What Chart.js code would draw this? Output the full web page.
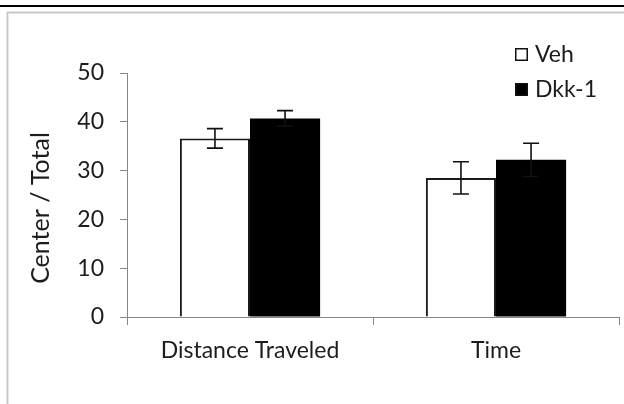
<!DOCTYPE html>
<html>
<head>
<meta charset="utf-8">
<script src="https://cdn.jsdelivr.net/npm/chart.js@4.4.1/dist/chart.umd.min.js"></script>
<style>
  html, body { margin: 0; padding: 0; background: #fff; }
  #wrap { position: absolute; left: 0; top: 0; width: 624px; height: 404px; }
</style>
</head>
<body>
<div id="wrap"><canvas id="c" width="624" height="404"></canvas></div>
<script>
const categories = ["Distance Traveled", "Time"];
const seriesNames = ["Veh", "Dkk-1"];
const vehValues = [36.6, 28.5];
const vehErrors = [2.0, 3.3];
const dkkValues = [40.7, 32.2];
const dkkErrors = [1.6, 3.4];
const yTicks = [0, 10, 20, 30, 40, 50];
const yTitle = 'Center / Total';

const FONT = "Lato, 'Open Sans', sans-serif";
const TEXT = '#1c1c1c';
const AXIS = '#868686';
const FS = 23;

const framePlugin = {
  id: 'frame',
  beforeDraw(chart) {
    const ctx = chart.ctx;
    ctx.save();
    ctx.fillStyle = '#fff';
    ctx.fillRect(0, 0, chart.width, chart.height);
    ctx.fillStyle = '#000';
    ctx.fillRect(0, 5, chart.width, 2);
    ctx.strokeStyle = '#e6e6e6';
    ctx.lineWidth = 3;
    ctx.beginPath();
    ctx.moveTo(7.5, chart.height + 5);
    ctx.lineTo(7.5, 12.5);
    ctx.lineTo(chart.width + 5, 12.5);
    ctx.stroke();
    ctx.strokeStyle = '#c4c4c4';
    ctx.lineWidth = 1;
    ctx.beginPath();
    ctx.moveTo(7.5, chart.height + 5);
    ctx.lineTo(7.5, 12.5);
    ctx.lineTo(chart.width + 5, 12.5);
    ctx.stroke();
    ctx.restore();
  }
};

const titlePlugin = {
  id: 'yTitle',
  afterDraw(chart) {
    const ctx = chart.ctx;
    ctx.save();
    ctx.translate(41, 208);
    ctx.rotate(-Math.PI / 2);
    ctx.font = '25px ' + FONT;
    ctx.fillStyle = TEXT;
    ctx.textAlign = 'center';
    ctx.textBaseline = 'middle';
    ctx.fillText(yTitle, 0, 0);
    ctx.restore();
  }
};

const errorPlugin = {
  id: 'errbars',
  afterDatasetsDraw(chart) {
    const ctx = chart.ctx;
    const y = chart.scales.y;
    const errs = [vehErrors, dkkErrors];
    ctx.save();
    ctx.strokeStyle = '#111';
    ctx.lineWidth = 1.6;
    chart.data.datasets.forEach((ds, di) => {
      const meta = chart.getDatasetMeta(di);
      meta.data.forEach((bar, i) => {
        const v = ds.data[i], e = errs[di][i];
        const x = bar.x;
        const yt = y.getPixelForValue(v + e);
        const yb = y.getPixelForValue(v - e);
        const w = 8;
        ctx.beginPath();
        ctx.moveTo(x, yt); ctx.lineTo(x, yb);
        ctx.moveTo(x - w, yt); ctx.lineTo(x + w, yt);
        ctx.moveTo(x - w, yb); ctx.lineTo(x + w, yb);
        ctx.stroke();
      });
    });
    ctx.restore();
  }
};

const legendPlugin = {
  id: 'customLegend',
  afterDraw(chart) {
    const ctx = chart.ctx;
    ctx.save();
    ctx.font = FS + 'px ' + FONT;
    ctx.textBaseline = 'middle';
    chart.data.datasets.forEach((ds, i) => {
      const sx = 515, sy = 48 + i * 35, s = 13;
      ctx.fillStyle = ds.backgroundColor;
      ctx.fillRect(sx, sy, s, s);
      ctx.strokeStyle = '#111';
      ctx.lineWidth = 1.5;
      ctx.strokeRect(sx + 0.75, sy + 0.75, s - 1.5, s - 1.5);
      ctx.fillStyle = TEXT;
      ctx.fillText(ds.label, 535, sy + s / 2);
    });
    ctx.restore();
  }
};

new Chart(document.getElementById('c'), {
  type: 'bar',
  data: {
    labels: categories,
    datasets: [
      { label: seriesNames[0], data: vehValues, backgroundColor: '#ffffff', borderColor: '#1a1a1a', borderWidth: 2, borderSkipped: 'bottom' },
      { label: seriesNames[1], data: dkkValues, backgroundColor: '#000000', borderColor: '#000000', borderWidth: 0 }
    ]
  },
  options: {
    responsive: false,
    animation: false,
    devicePixelRatio: 1,
    layout: { padding: { left: 0, top: 73, right: 5, bottom: 0 } },
    plugins: { legend: { display: false }, tooltip: { enabled: false } },
    datasets: { bar: { barPercentage: 1.0, categoryPercentage: 0.57 } },
    scales: {
      x: {
        grid: { display: true, offset: true, drawOnChartArea: false, drawTicks: true, tickLength: 8, color: AXIS, lineWidth: 1 },
        border: { display: true, color: AXIS, width: 1 },
        ticks: { color: TEXT, font: { family: FONT, size: FS }, padding: 12, maxRotation: 0 },
        afterFit(scale) { scale.height = 87; }
      },
      y: {
        min: 0, max: 50,
        afterBuildTicks(scale) { scale.ticks = yTicks.map(v => ({ value: v })); },
        grid: { display: true, drawOnChartArea: false, drawTicks: true, tickLength: 7, color: AXIS, lineWidth: 1 },
        border: { display: true, color: AXIS, width: 1 },
        ticks: { color: TEXT, font: { family: FONT, size: FS }, padding: 16 },
        title: { display: false },
        afterFit(scale) { scale.width = 127; }
      }
    }
  },
  plugins: [framePlugin, errorPlugin, legendPlugin, titlePlugin]
});
</script>
</body>
</html>
